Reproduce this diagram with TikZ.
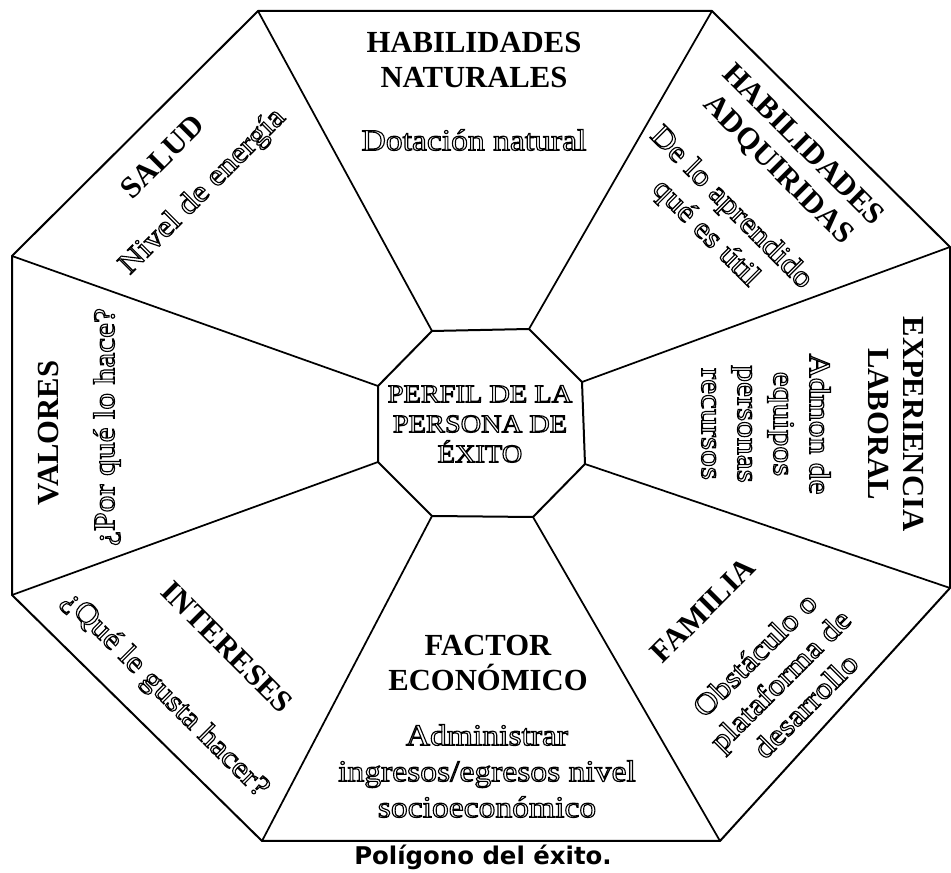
\documentclass[tikz,border=0pt]{standalone}
\usepackage{fontspec}
\setmainfont{Liberation Serif}
\newfontfamily\hollowfont[FakeStretch=1.12]{Liberation Serif}
\newfontfamily\captionfont{DejaVu Sans}
% hollow lettering through the PDF text rendering mode (stroke only)
\newcommand\hol[1]{\special{pdf:literal direct 1 Tr 0.85 w}#1\special{pdf:literal direct 0 Tr}}

\tikzset{
  frame/.style={line width=1.5pt, line join=round},
  spoke/.style={line width=1.3pt},
  title/.style={font=\bfseries\fontsize{23}{26.25}\selectfont, align=center, inner sep=0pt},
  subtitle/.style={font=\hollowfont\fontsize{22.5}{27}\selectfont, align=center, inner sep=0pt},
  hub/.style={font=\hollowfont\fontsize{19}{22.5}\selectfont, align=center, inner sep=0pt},
  caption/.style={font=\captionfont\bfseries\fontsize{18.3}{21}\selectfont, inner sep=0pt},
}

\begin{document}
\begin{tikzpicture}[x=0.75pt, y=-0.75pt]
\useasboundingbox (0,0) rectangle (951,873);

% outer octagon
\coordinate (o1) at (258,11);
\coordinate (o2) at (712,11);
\coordinate (o3) at (950,247);
\coordinate (o4) at (950,588);
\coordinate (o5) at (720,841);
\coordinate (o6) at (262,841);
\coordinate (o7) at (12,595);
\coordinate (o8) at (12,256);
% inner octagon
\coordinate (i1) at (432,331);
\coordinate (i2) at (529,329);
\coordinate (i3) at (582,382);
\coordinate (i4) at (585,464);
\coordinate (i5) at (533,517);
\coordinate (i6) at (432,516);
\coordinate (i7) at (378,462);
\coordinate (i8) at (378,386);

\draw[frame] (o1) -- (o2) -- (o3) -- (o4) -- (o5) -- (o6) -- (o7) -- (o8) -- cycle;
\draw[frame] (i1) -- (i2) -- (i3) -- (i4) -- (i5) -- (i6) -- (i7) -- (i8) -- cycle;
\foreach \k in {1,...,8} \draw[spoke] (o\k) -- (i\k);

% hub
\node[hub] (hub) at (480,424) {\hol{PERFIL DE LA}\\\hol{PERSONA DE}\\\hol{ÉXITO}};

% sector titles
\node[title] (tTop) at (474,60.5) {HABILIDADES\\NATURALES};
\node[title, rotate=-45] (tTR) at (790,158) {HABILIDADES\\ADQUIRIDAS};
\node[title, rotate=-90] (tR) at (896,424) {EXPERIENCIA\\LABORAL};
\node[title, rotate=45] (tBR) at (703,610) {FAMILIA};
\node[title] (tB) at (488,663) {FACTOR\\ECONÓMICO};
\node[title, rotate=-45] (tBL) at (227,647) {INTERESES};
\node[title, rotate=90] (tL) at (49,433) {VALORES};
\node[title, rotate=45] (tTL) at (162,157) {SALUD};

% sector descriptions
\node[subtitle] (sTop) at (474,140) {\hol{Dotación natural}};
\node[subtitle, rotate=-45] (sTR) at (718,221) {\hol{De lo aprendido}\\\hol{qué es útil}};
\node[subtitle, rotate=-90] (sR) at (766,424) {\hol{Admon de}\\\hol{equipos}\\\hol{personas}\\\hol{recursos}};
\node[subtitle, rotate=45] (sBR) at (780,680) {\hol{Obstáculo o}\\\hol{plataforma de}\\\hol{desarrollo}};
\node[subtitle] (sB) at (487,771) {\hol{Administrar}\\\hol{ingresos/egresos nivel}\\\hol{socioeconómico}};
\node[subtitle, rotate=-45] (sBL) at (165,695) {\hol{¿Qué le gusta hacer?}};
\node[subtitle, rotate=90] (sL) at (107,427) {\hol{¿Por qué lo hace?}};
\node[subtitle, rotate=45] (sTL) at (203,192) {\hol{Nivel de energía}};

% caption
\node[caption] (cap) at (483,857) {Polígono del éxito.};
\end{tikzpicture}
\end{document}
